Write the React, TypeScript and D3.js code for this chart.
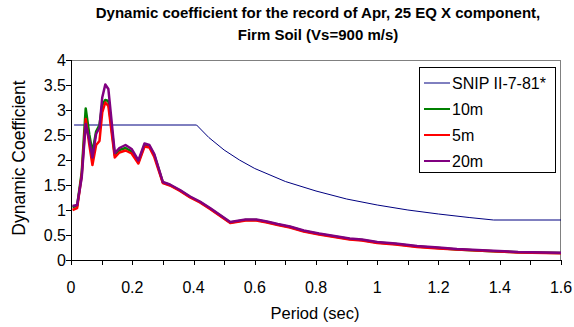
import React from 'react';
import * as d3 from 'd3';

// periods (sec) shared by the three soil-depth records
const periods = [0.005, 0.02, 0.035, 0.048, 0.06, 0.07, 0.082, 0.093, 0.102, 0.112, 0.122, 0.143, 0.158, 0.178, 0.198, 0.22, 0.24, 0.256, 0.272, 0.3, 0.323, 0.356, 0.389, 0.421, 0.454, 0.487, 0.52, 0.55, 0.57, 0.605, 0.64, 0.675, 0.715, 0.76, 0.81, 0.86, 0.91, 0.95, 1.0, 1.06, 1.13, 1.2, 1.26, 1.36, 1.46, 1.55, 1.6];

const depth10 = [1.06, 1.08, 1.75, 3.03, 2.5, 2.15, 2.57, 2.7, 3.1, 3.2, 3.18, 2.1, 2.2, 2.24, 2.17, 1.96, 2.3, 2.28, 2.1, 1.55, 1.5, 1.39, 1.26, 1.16, 1.03, 0.89, 0.75, 0.78, 0.8, 0.8, 0.76, 0.71, 0.66, 0.58, 0.52, 0.47, 0.42, 0.4, 0.35, 0.32, 0.27, 0.24, 0.21, 0.18, 0.155, 0.145, 0.14];
const depth5 = [1.0, 1.04, 1.7, 2.82, 2.3, 1.9, 2.3, 2.38, 2.95, 3.15, 3.08, 2.05, 2.15, 2.19, 2.13, 1.93, 2.27, 2.25, 2.06, 1.54, 1.49, 1.38, 1.25, 1.15, 1.02, 0.88, 0.74, 0.77, 0.79, 0.79, 0.75, 0.7, 0.65, 0.57, 0.51, 0.46, 0.41, 0.39, 0.34, 0.31, 0.26, 0.23, 0.21, 0.18, 0.15, 0.14, 0.135];
const depth20 = [1.08, 1.1, 1.65, 2.72, 2.4, 2.05, 2.52, 2.65, 3.25, 3.51, 3.42, 2.14, 2.24, 2.3, 2.22, 1.99, 2.33, 2.3, 2.12, 1.56, 1.51, 1.4, 1.27, 1.17, 1.04, 0.9, 0.76, 0.79, 0.81, 0.81, 0.77, 0.72, 0.67, 0.59, 0.53, 0.48, 0.43, 0.41, 0.36, 0.33, 0.28, 0.25, 0.22, 0.19, 0.16, 0.15, 0.145];

// code spectrum SNIP II-7-81
const snipT = [0.01, 0.41, 0.45, 0.5, 0.55, 0.6, 0.7, 0.8, 0.9, 1.0, 1.1, 1.2, 1.3, 1.38, 1.6];
const snipV = [2.7, 2.7, 2.45, 2.2, 2.0, 1.83, 1.57, 1.38, 1.22, 1.1, 1.0, 0.92, 0.85, 0.8, 0.8];

const series = [
  { name: 'SNIP II-7-81*', x: snipT, y: snipV, color: '#000080', width: 1 },
  { name: '10m', x: periods, y: depth10, color: '#008000', width: 2.5 },
  { name: '5m', x: periods, y: depth5, color: '#ff0000', width: 2.5 },
  { name: '20m', x: periods, y: depth20, color: '#800080', width: 2.5 },
];

const titleLines = ['Dynamic coefficient for the record of Apr, 25 EQ X component,', 'Firm Soil (Vs=900 m/s)'];

const W = 574;
const H = 327;
const margin = { top: 60, right: 13, bottom: 67, left: 71 };
const font = '"Liberation Sans", Arial, sans-serif';

export default function App() {
  const x = d3.scaleLinear().domain([0, 1.6]).range([margin.left, W - margin.right]);
  const y = d3.scaleLinear().domain([0, 4]).range([H - margin.bottom, margin.top]);

  const line = (xs: number[], ys: number[]) =>
    d3.line<number>()
      .x((_, i) => x(xs[i]))
      .y(d => y(d))(ys) || '';

  const xMinor = x.ticks(16);
  const xLabels = x.ticks(8);
  const yTicks = y.ticks(8);

  const x0 = x(0), x1 = x(1.6), y0 = y(0), y1 = y(4);

  return (
    <svg width={W} height={H} style={{ position: 'absolute', left: 0, top: 0, fontFamily: font }}>
      <rect x={0} y={0} width={W} height={H} fill="#fff" />
      {titleLines.map((t, i) => (
        <text key={i} x={318} y={18 + i * 22} textAnchor="middle" fontSize={15} fontWeight="bold">{t}</text>
      ))}

      {/* plot frame */}
      <line x1={x0} x2={x1} y1={y1 + 0.5} y2={y1 + 0.5} stroke="#808080" />
      <line x1={x1 - 0.5} x2={x1 - 0.5} y1={y1} y2={y0} stroke="#808080" />

      {series.map(s => (
        <path key={s.name} d={line(s.x, s.y)} fill="none" stroke={s.color} strokeWidth={s.width} strokeLinejoin="round" />
      ))}

      {/* y axis */}
      <line x1={x0 + 0.5} x2={x0 + 0.5} y1={y1} y2={y0} stroke="#000" />
      {yTicks.map(t => (
        <g key={t}>
          <line x1={x0 - 5} x2={x0} y1={Math.round(y(t)) + 0.5} y2={Math.round(y(t)) + 0.5} stroke="#000" />
          <text x={x0 - 5} y={y(t) + 6} textAnchor="end" fontSize={16}>{t}</text>
        </g>
      ))}

      {/* x axis */}
      <line x1={x0} x2={x1} y1={y0 + 0.5} y2={y0 + 0.5} stroke="#000" />
      {xMinor.map(t => (
        <line key={t} x1={Math.round(x(t)) + 0.5} x2={Math.round(x(t)) + 0.5} y1={y0} y2={y0 + 5} stroke="#000" />
      ))}
      {xLabels.map(t => (
        <text key={t} x={x(t)} y={293} textAnchor="middle" fontSize={16}>{t}</text>
      ))}

      <text x={315} y={319} textAnchor="middle" fontSize={16.5}>Period (sec)</text>
      <text transform={`translate(25,158) rotate(-90)`} textAnchor="middle" fontSize={17.5}>Dynamic Coefficient</text>

      {/* legend */}
      <rect x={419.5} y={67.5} width={136} height={105} fill="#fff" stroke="#000" />
      {series.map((s, i) => (
        <g key={s.name} transform={`translate(424,${83 + i * 26})`}>
          <line x1={0} x2={26} y1={0} y2={0} stroke={s.color} strokeWidth={s.width === 1 ? 1 : 2} />
          <text x={28} y={6} fontSize={16}>{s.name}</text>
        </g>
      ))}
    </svg>
  );
}
